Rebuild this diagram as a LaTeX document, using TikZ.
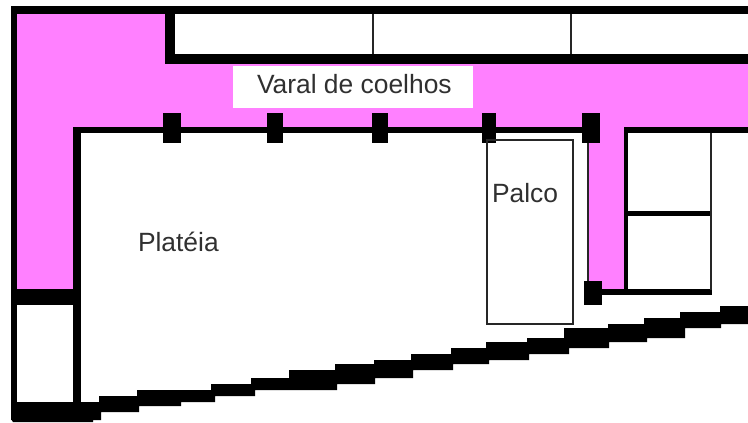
\documentclass[tikz,border=0pt]{standalone}
\usepackage{fontspec}
\setmainfont{Liberation Sans}
\definecolor{corredor}{HTML}{FF80FF}
\definecolor{letra}{HTML}{303030}
\tikzset{
  parede/.style={fill=black},
  fina/.style={draw=black!85, line width=2pt},
  rotulo/.style={anchor=base west, inner sep=0pt, outer sep=0pt, text=letra, font=\fontsize{26.4}{26.4}\selectfont},
}
\begin{document}
\begin{tikzpicture}[x=1pt, y=-1pt]
\useasboundingbox (0,0) rectangle (748,423);
\fill[white] (0,0) rectangle (748,423);

% corredor
\fill[corredor] (17,14) -- (165,14) -- (165,64) -- (748,64) -- (748,127) -- (73,127) -- (73,290) -- (17,290) -- cycle;
\fill[corredor] (588,127) rectangle (625,290);
\fill[white] (233,66) rectangle (473,108);

% paredes de fora
\fill[parede] (11,6) rectangle (748,14);
\fill[parede] (11,6) rectangle (17,420);
\fill[parede] (165,14) rectangle (175,64);
\fill[parede] (165,54) rectangle (748,64);
\fill[parede] (73,127) rectangle (590,133);
\fill[parede] (73,127) rectangle (81,403);
\fill[parede] (11,289) rectangle (81,305);
\fill[parede] (624,127) rectangle (748,133);
\fill[parede] (624,127) rectangle (628,295);
\fill[parede] (628,211) rectangle (711,216);
\fill[parede] (600,289) rectangle (712,295);

% divisorias
\draw[fina] (372.5,14) -- (372.5,54);
\draw[fina] (571,14) -- (571,54);
\draw[fina] (711,133) -- (711,290);
\draw[fina] (588,143) -- (588,282);

% colunas
\fill[parede] (163,113) rectangle (181,143);
\fill[parede] (267,113) rectangle (283,143);
\fill[parede] (372,113) rectangle (388,143);
\fill[parede] (482,113) rectangle (496,143);
\fill[parede] (582,113) rectangle (600,143);
\fill[parede] (584,281) rectangle (602,305);

% palco
\draw[fina] (486.5,139.5) rectangle (573,324);

% parede em degraus
\fill[parede] (81,402) -- (99,402) -- (99,396) -- (137,396) -- (137,390) -- (211,390) -- (211,384)
  -- (251,384) -- (251,378) -- (289,378) -- (289,370) -- (335,370) -- (335,364) -- (374,364)
  -- (374,360) -- (411,360) -- (411,354) -- (451,354) -- (451,348) -- (486,348) -- (486,342)
  -- (527,342) -- (527,338) -- (564,338) -- (564,328) -- (608,328) -- (608,324) -- (644,324)
  -- (644,318) -- (680,318) -- (680,312) -- (720,312) -- (720,306) -- (748,306) -- (748,324)
  -- (721,324) -- (721,328) -- (685,328) -- (685,338) -- (647,338) -- (647,342) -- (609,342)
  -- (609,348) -- (569,348) -- (569,354) -- (529,354) -- (529,360) -- (489,360) -- (489,364)
  -- (453,364) -- (453,370) -- (413,370) -- (413,378) -- (375,378) -- (375,384) -- (337,384)
  -- (337,390) -- (255,390) -- (255,396) -- (215,396) -- (215,402) -- (181,402) -- (181,406)
  -- (139,406) -- (139,412) -- (101,412) -- (101,420) -- (93,420) -- (93,422) -- (13,422)
  -- (11,419) -- (11,402) -- cycle;

\node[rotulo] (varal) at (257,93) {Varal de coelhos};
\node[rotulo] (palco) at (492,202) {Palco};
\node[rotulo] (plateia) at (138,251) {Platéia};
\end{tikzpicture}
\end{document}
